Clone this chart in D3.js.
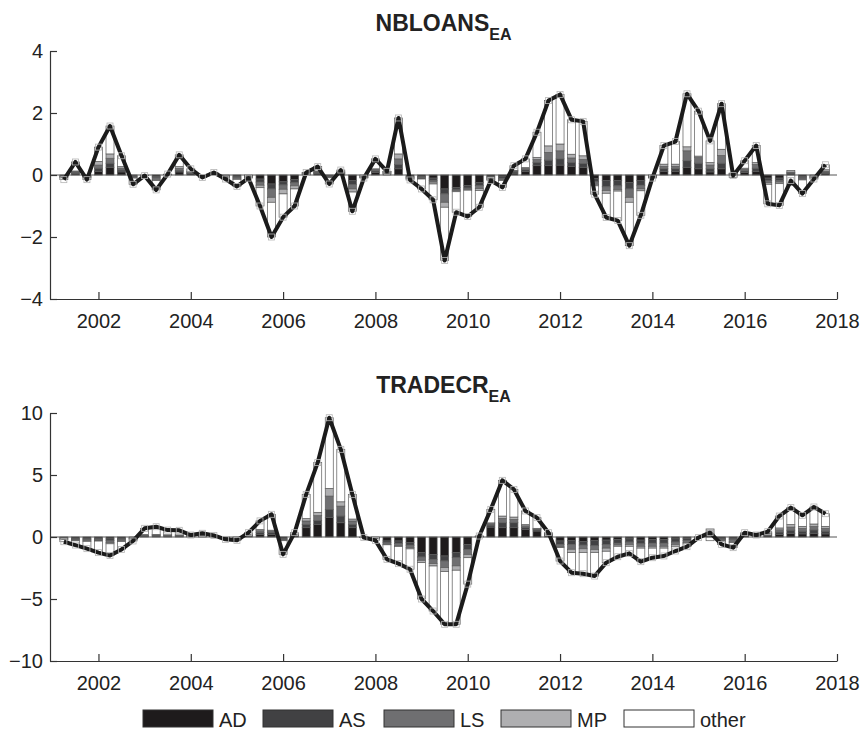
<!DOCTYPE html>
<html><head><meta charset="utf-8">
<script src="https://cdn.jsdelivr.net/npm/d3@7"></script>
<style>
body{margin:0;background:#fff}
svg{display:block}
text{font-family:"Liberation Sans",Arial,Helvetica,sans-serif;fill:#222}
</style>
</head><body>
<svg id="chart" width="862" height="736"></svg>
<script>
// ---------- data ----------
const seriesNames = ["AD", "AS", "LS", "MP", "other"];
const seriesColors = ["#1e1b1c", "#414143", "#6f6f71", "#afafb1", "#ffffff"];
const xTickYears = [2002, 2004, 2006, 2008, 2010, 2012, 2014, 2016, 2018];
const firstQuarter = 2001.25;   // first observation (quarterly)
const quarterStep = 0.25;

const nbTicks = [-4, -2, 0, 2, 4];
const trTicks = [-10, -5, 0, 5, 10];

// NBLOANS_EA
const nbTotal = [-0.15,0.42,-0.15,0.9,1.58,0.62,-0.3,-0.02,-0.48,0.03,0.65,0.2,-0.08,0.08,-0.13,-0.37,-0.1,-1.0,-2.0,-1.36,-1.0,0.08,0.27,-0.29,0.16,-1.17,-0.1,0.52,0.12,1.84,-0.16,-0.45,-0.8,-2.76,-1.2,-1.34,-1.04,-0.18,-0.4,0.3,0.52,1.38,2.4,2.6,1.78,1.73,-0.62,-1.37,-1.47,-2.28,-1.3,-0.1,0.95,1.08,2.62,2.06,1.1,2.3,-0.02,0.46,0.95,-0.93,-0.98,-0.18,-0.6,-0.13,0.33];
const nbAD = [-0.03,0.04,-0.03,0.12,0.25,0.1,-0.03,-0.01,-0.05,0.01,0.1,0.05,-0.02,0.02,-0.03,-0.04,-0.02,-0.13,-0.29,-0.22,-0.15,0.02,0.05,-0.03,0.04,-0.18,-0.03,0.08,0.05,0.2,-0.04,-0.05,-0.1,-0.45,-0.4,-0.34,-0.24,-0.05,-0.06,0.06,0.12,0.3,0.3,0.32,0.28,0.25,-0.12,-0.18,-0.18,-0.24,-0.18,-0.03,0.12,0.12,0.25,0.2,0.1,0.2,0.02,0.08,0.12,-0.1,-0.1,0.04,-0.05,-0.03,0.05];
const nbAS = [-0.02,0.03,-0.02,0.1,0.13,0.06,-0.02,-0.01,-0.04,0.01,0.05,0.02,-0.02,0.02,-0.02,-0.04,-0.02,-0.1,-0.16,-0.1,-0.1,0.02,0.03,-0.02,0.02,-0.13,-0.02,0.05,0.03,0.14,-0.03,-0.03,-0.07,-0.16,-0.08,-0.08,-0.1,-0.03,-0.05,0.04,0.05,0.1,0.18,0.2,0.12,0.12,-0.1,-0.2,-0.17,-0.21,-0.15,-0.02,0.08,0.08,0.21,0.18,0.1,0.18,0.02,0.05,0.1,-0.08,-0.07,0.03,-0.04,-0.02,0.04];
const nbLS = [-0.02,0.03,-0.02,0.1,0.16,0.06,-0.02,0,-0.05,0.01,0.06,0.03,-0.02,0.02,-0.02,-0.03,-0.02,-0.1,-0.27,-0.14,-0.1,0.02,0.02,-0.02,0.02,-0.14,-0.02,0.04,0.02,0.18,-0.02,-0.03,-0.06,-0.27,-0.03,-0.04,-0.1,-0.04,-0.04,0.03,0.04,0.1,0.25,0.26,0.15,0.13,-0.08,-0.12,-0.12,-0.27,-0.12,-0.02,0.08,0.08,0.32,0.18,0.12,0.25,0.01,0.05,0.12,-0.07,-0.06,0.02,-0.04,-0.02,0.03];
const nbMP = [-0.02,0.03,-0.02,0.12,0.14,0.05,-0.03,0,-0.04,0,0.06,0.02,-0.01,0.01,-0.02,-0.03,-0.02,-0.08,-0.16,-0.15,-0.1,0.01,0.03,-0.02,0.02,-0.1,-0.01,0.03,0.01,0.16,-0.02,-0.02,-0.06,-0.16,-0.03,-0.03,-0.06,-0.03,-0.03,0.02,0.03,0.07,0.21,0.22,0.12,0.12,-0.05,-0.09,-0.05,-0.16,-0.06,-0.01,0.07,0.07,0.13,0.05,0.08,0.2,0.01,0.04,0.06,-0.05,-0.05,0.06,-0.03,-0.02,0.05];
const nbOther = [-0.06,0.29,-0.06,0.46,0.9,0.35,-0.2,0,-0.3,0,0.38,0.08,-0.01,0.01,-0.04,-0.23,-0.02,-0.59,-1.12,-0.75,-0.55,0.01,0.14,-0.2,0.06,-0.62,-0.02,0.32,0.01,1.16,-0.05,-0.32,-0.51,-1.72,-0.66,-0.85,-0.54,-0.03,-0.22,0.15,0.28,0.81,1.46,1.6,1.11,1.11,-0.27,-0.78,-0.95,-1.4,-0.79,-0.02,0.6,0.73,1.71,1.45,0.7,1.47,-0.08,0.24,0.55,-0.63,-0.7,-0.33,-0.44,-0.04,0.16];

// TRADECR_EA
const trTotal = [-0.38,-0.65,-0.94,-1.26,-1.5,-1.0,-0.32,0.7,0.83,0.56,0.54,0.16,0.3,0.13,-0.19,-0.27,0.35,1.3,1.83,-1.4,0.35,3.44,6.0,9.62,7.07,3.44,-0.05,-0.27,-1.8,-2.15,-2.6,-5.0,-5.97,-7.04,-7.04,-3.8,0.08,2.23,4.57,3.84,2.1,1.56,0.35,-1.94,-2.88,-2.96,-3.15,-2.07,-1.59,-1.32,-1.99,-1.67,-1.53,-1.13,-0.78,-0.05,0.35,-0.6,-0.86,0.35,0.16,0.43,1.69,2.37,1.75,2.42,1.88];
const trAD = [-0.05,-0.1,-0.1,-0.1,-0.15,-0.1,-0.05,0.06,0.07,0.06,0.05,0.03,0.05,0.03,-0.03,-0.03,0.08,0.2,0.2,-0.1,0.1,0.75,1.0,1.56,1.15,0.75,-0.01,-0.05,-0.32,-0.32,-0.46,-1.26,-1.4,-1.53,-1.26,-0.6,0.02,0.8,0.75,0.75,0.62,0.48,0.1,-0.32,-0.27,-0.35,-0.3,-0.25,-0.2,-0.15,-0.25,-0.2,-0.2,-0.15,-0.1,-0.01,0.1,-0.1,-0.1,0.1,0.05,0.1,0.2,0.3,0.25,0.3,0.25];
const trAS = [-0.05,-0.08,-0.1,-0.1,-0.15,-0.1,-0.05,0.05,0.05,0.05,0.05,0.03,0.04,0.03,-0.03,-0.03,0.05,0.15,0.15,-0.08,0.05,0.27,0.32,0.67,0.54,0.27,-0.01,-0.03,-0.13,-0.2,-0.2,-0.35,-0.4,-0.4,-0.4,-0.4,0.02,0.16,0.4,0.4,0.15,0.1,0.08,-0.27,-0.32,-0.3,-0.4,-0.35,-0.3,-0.25,-0.3,-0.3,-0.3,-0.25,-0.2,-0.01,0.1,-0.1,-0.1,0.08,0.04,0.1,0.2,0.25,0.22,0.27,0.22];
const trLS = [-0.05,-0.07,-0.1,-0.08,-0.15,-0.1,-0.04,0.05,0.05,0.04,0.04,0.03,0.03,0.02,-0.03,-0.03,0.04,0.15,0.12,-0.07,0.04,0.27,0.4,1.07,0.8,0.27,-0.01,-0.03,-0.13,-0.2,-0.2,-0.27,-0.35,-0.54,-0.67,-0.4,0.02,0.1,0.35,0.27,0.13,0.07,0.07,-0.2,-0.4,-0.3,-0.3,-0.3,-0.15,-0.2,-0.2,-0.25,-0.25,-0.2,-0.15,-0.01,0.1,-0.1,-0.15,0.07,0.03,0.08,0.18,0.25,0.22,0.28,0.22];
const trMP = [-0.05,-0.05,-0.05,-0.05,-0.1,-0.07,-0.03,0.04,0.04,0.03,0.03,0.02,0.02,0.02,-0.02,-0.02,0.03,0.1,0.08,-0.05,0.03,0.2,0.27,0.62,0.35,0.16,-0.01,-0.02,-0.05,-0.05,-0.1,-0.19,-0.19,-0.32,-0.35,-0.27,0.01,0.08,0.19,0.19,0.1,0.05,0.05,-0.07,-0.27,-0.3,-0.25,-0.25,-0.1,-0.15,-0.15,-0.15,-0.15,-0.15,-0.1,-0.01,0.35,-0.05,-0.1,0.05,0.02,0.05,0.15,0.2,0.17,0.2,0.17];
const trOther = [-0.18,-0.35,-0.59,-0.93,-0.95,-0.63,-0.15,0.5,0.62,0.38,0.37,0.05,0.16,0.03,-0.08,-0.16,0.15,0.7,1.28,-1.1,0.13,1.95,4.01,5.7,4.23,1.99,-0.01,-0.14,-1.17,-1.38,-1.64,-2.93,-3.63,-4.25,-4.36,-2.13,0.01,1.09,2.88,2.23,1.1,0.86,0.05,-1.08,-1.62,-1.71,-1.9,-0.92,-0.84,-0.57,-1.09,-0.77,-0.63,-0.38,-0.23,-0.01,-0.3,-0.25,-0.41,0.05,0.02,0.1,0.96,1.37,0.89,1.37,1.02];

// ---------- drawing ----------
const svg = d3.select("#chart");
const xLeft = 50, xRight = 837;
const x = d3.scaleLinear().domain([2000.95, 2018]).range([xLeft, xRight]);
const barW = 8;

const panels = [
  {title: "NBLOANS", sub: "EA", total: nbTotal, comps: [nbAD, nbAS, nbLS, nbMP, nbOther],
   yDomain: [-4, 4], ticks: nbTicks, top: 51, bottom: 299, titleY: 31},
  {title: "TRADECR", sub: "EA", total: trTotal, comps: [trAD, trAS, trLS, trMP, trOther],
   yDomain: [-10, 10], ticks: trTicks, top: 413, bottom: 661, titleY: 393}
];

panels.forEach(p => {
  const g = svg.append("g");
  const y = d3.scaleLinear().domain(p.yDomain).range([p.bottom, p.top]);
  const rows = p.total.map((v, i) => {
    const r = {t: firstQuarter + i * quarterStep, total: v};
    seriesNames.forEach((k, j) => r[k] = p.comps[j][i]);
    return r;
  });
  const stacked = d3.stack().keys(seriesNames).offset(d3.stackOffsetDiverging)(rows);

  // bars
  stacked.forEach((layer, li) => {
    g.append("g").selectAll("rect").data(layer).join("rect")
      .attr("x", d => x(d.data.t) - barW / 2)
      .attr("width", barW)
      .attr("y", d => y(Math.max(d[0], d[1])))
      .attr("height", d => Math.abs(y(d[0]) - y(d[1])))
      .attr("fill", seriesColors[li])
      .attr("stroke", "#5a5a5a")
      .attr("stroke-width", 0.7);
  });

  // baseline
  g.append("line").attr("x1", xLeft).attr("x2", xRight)
    .attr("y1", y(0)).attr("y2", y(0))
    .attr("stroke", "#555").attr("stroke-width", 1);

  // total line
  g.append("path").datum(rows)
    .attr("fill", "none").attr("stroke", "#1b1b1b").attr("stroke-width", 4)
    .attr("stroke-linejoin", "round")
    .attr("d", d3.line().x(d => x(d.t)).y(d => y(d.total)));

  // markers
  g.append("g").selectAll("rect").data(rows).join("rect")
    .attr("x", d => x(d.t) - 3).attr("y", d => y(d.total) - 3)
    .attr("width", 6).attr("height", 6)
    .attr("fill", "none").attr("stroke", "#b5b5b5").attr("stroke-width", 0.8);

  // axes
  const ax = g.append("g").attr("transform", `translate(${xLeft},0)`)
    .call(d3.axisLeft(y).tickValues(p.ticks).tickSizeInner(-7).tickSizeOuter(0).tickPadding(7));
  const bx = g.append("g").attr("transform", `translate(0,${p.bottom})`)
    .call(d3.axisBottom(x).tickValues(xTickYears).tickFormat(d3.format("d")).tickSizeInner(-7).tickSizeOuter(0).tickPadding(15));
  [ax, bx].forEach(a => {
    a.select(".domain").attr("stroke", "#333").attr("stroke-width", 1.2);
    a.selectAll(".tick line").attr("stroke", "#333").attr("stroke-width", 1.2);
    a.selectAll(".tick text").attr("font-size", 20).attr("fill", "#222")
      .style("font-family", '"Liberation Sans", Arial, sans-serif');
  });

  // title
  const tt = g.append("text").attr("x", (xLeft + xRight) / 2).attr("y", p.titleY)
    .attr("text-anchor", "middle").attr("font-weight", "bold").attr("font-size", 23);
  tt.append("tspan").text(p.title);
  tt.append("tspan").attr("font-size", 16).attr("dy", 9).text(p.sub);
});

// legend
const legendX = [143, 263, 384, 501, 624];
const lg = svg.append("g");
seriesNames.forEach((n, i) => {
  lg.append("rect").attr("x", legendX[i]).attr("y", 710).attr("width", 70).attr("height", 17)
    .attr("fill", seriesColors[i]).attr("stroke", "#333").attr("stroke-width", 1);
  lg.append("text").attr("x", legendX[i] + 76).attr("y", 727).attr("font-size", 20).text(n);
});
</script>
</body></html>
